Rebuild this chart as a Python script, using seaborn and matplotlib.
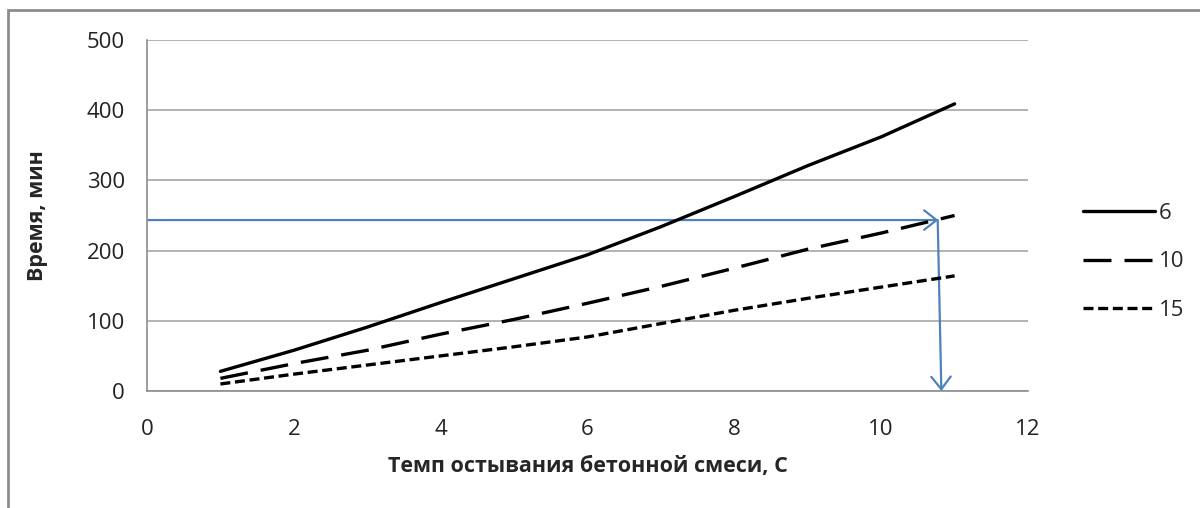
import pandas as pd
import matplotlib.pyplot as plt
import seaborn as sns
from matplotlib.patches import Rectangle, FancyArrowPatch

# temperature drop rate, C
temp_rate = [1, 2, 3, 4, 5, 6, 7, 8, 9, 10, 11]
# time, min, for each series
time_6 = [28, 58, 91, 126, 160, 194, 234, 277, 321, 362, 409]
time_10 = [18, 39, 58, 81, 102, 125, 149, 175, 202, 225, 250]
time_15 = [10, 24, 37, 50, 63, 77, 96, 115, 132, 148, 164]
series_names = ['6', '10', '15']

# reading guide (blue arrows)
guide_time = 243.5
guide_rate = 10.8

rows = []
for name, vals in zip(series_names, [time_6, time_10, time_15]):
    for x, y in zip(temp_rate, vals):
        rows.append({'rate': x, 'time': y, 'series': name})
df = pd.DataFrame(rows)

sns.set_style('white')
plt.rcParams['font.family'] = ['Open Sans', 'DejaVu Sans']

fig = plt.figure(figsize=(12, 5.08), dpi=100)
ax = fig.add_axes([147 / 1200, 1 - 391 / 508, (1028 - 147) / 1200, (391 - 40) / 508])

sns.lineplot(data=df, x='rate', y='time', style='series', style_order=series_names,
             dashes={'6': '', '10': (8.4, 3.9), '15': (3.0, 1.4)},
             color='black', linewidth=2.4, ax=ax, legend=True)

ax.set_xlim(0, 12)
ax.set_ylim(0, 500)
ax.set_xticks(range(0, 13, 2))
ax.set_yticks(range(0, 501, 100))
ax.yaxis.grid(True, color='#a6a6a6', linewidth=1.2)
ax.set_axisbelow(True)
for side in ['top', 'right']:
    ax.spines[side].set_visible(False)
for side in ['left', 'bottom']:
    ax.spines[side].set_color('#8c8c8c')
    ax.spines[side].set_linewidth(1.2)
ax.tick_params(axis='both', which='both', direction='out', length=6, width=1.2,
               color='#8c8c8c', labelsize=16, labelcolor='#222222')
ax.tick_params(axis='x', pad=14)
ax.tick_params(axis='y', pad=10)

ax.set_xlabel('Темп остывания бетонной смеси, С', fontsize=15.5, fontweight='bold',
              labelpad=12)
ax.set_ylabel('Время, мин', fontsize=15.5, fontweight='bold', labelpad=28)

# blue guide arrows
blue = '#4f81bd'
ax.add_patch(FancyArrowPatch((0, guide_time), (guide_rate - 0.02, guide_time),
                             arrowstyle='->,head_length=0.45,head_width=0.35',
                             mutation_scale=20, color=blue, linewidth=1.6,
                             shrinkA=0, shrinkB=0))
ax.add_patch(FancyArrowPatch((guide_rate - 0.03, guide_time), (guide_rate + 0.02, 0),
                             arrowstyle='->,head_length=0.45,head_width=0.35',
                             mutation_scale=20, color=blue, linewidth=1.6,
                             shrinkA=0, shrinkB=0, clip_on=False))

leg = ax.legend(loc='center left', bbox_to_anchor=(1083 / 1200, 1 - 262 / 508),
                bbox_transform=fig.transFigure, frameon=False, fontsize=16,
                handlelength=3.25, handletextpad=0.15, labelspacing=1.25,
                borderaxespad=0, borderpad=0)
for line in leg.get_lines():
    line.set_linewidth(2.4)

# outer chart frame
fig.patches.append(Rectangle((8 / 1200, -0.1), 1.2, 1 - 10 / 508 + 0.1,
                             transform=fig.transFigure, fill=False,
                             edgecolor='#8c8c8c', linewidth=2))

fig.savefig('out.png', dpi=100)
